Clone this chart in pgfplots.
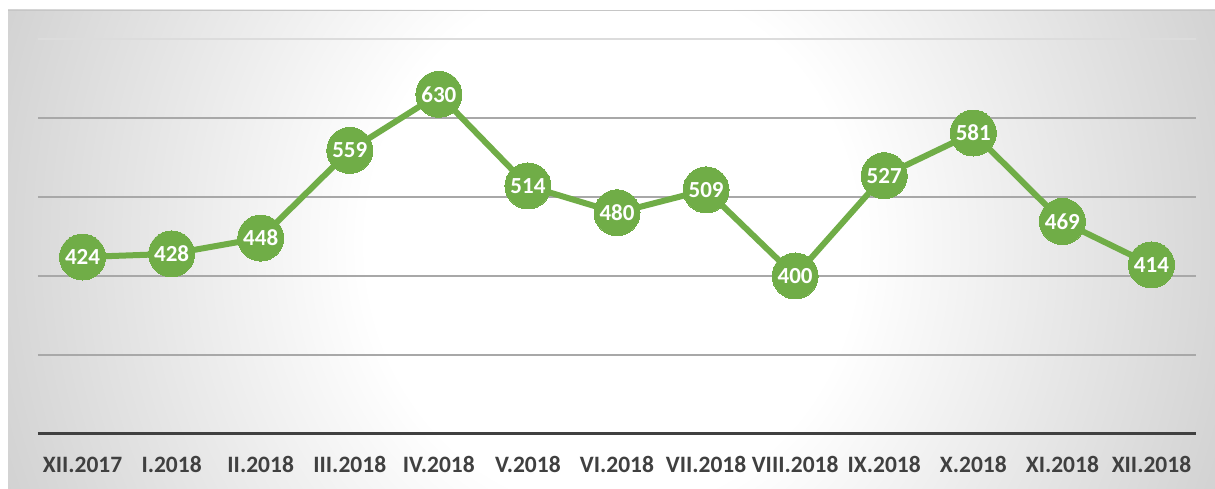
\documentclass[border=0pt]{standalone}
\usepackage{pgfplots}
\pgfplotsset{compat=1.18}
\usepackage{fontspec}
\setmainfont{Carlito}
\definecolor{lgreen}{HTML}{70AD47}
\definecolor{txt}{HTML}{404040}
\definecolor{gridc}{HTML}{A8A8A8}
\definecolor{gridl}{HTML}{DCDCDC}
\definecolor{bgout}{HTML}{C0C0C0}
\pgfdeclareradialshading{bgshade}{\pgfpoint{0bp}{0bp}}{color(0bp)=(white); color(10bp)=(white); color(33bp)=(bgout); color(50bp)=(bgout)}
\begin{document}
\begin{tikzpicture}[x=1pt,y=1pt]
\useasboundingbox (0,0) rectangle (1215,489);
\begin{scope}
\clip (8,0) rectangle (1215,479);
\fill[bgout] (8,0) rectangle (1215,479);
\shade[shading=bgshade] (0,-415) rectangle (1224,905);
\end{scope}
\draw[gray!45, line width=0.8pt] (8,479) -- (1215,479);
\begin{axis}[
  at={(38pt,55pt)}, anchor=south west,
  scale only axis, width=1158pt, height=395pt,
  xmin=-0.5, xmax=12.5, ymin=200, ymax=700,
  clip=false,
  /pgf/number format/assume math mode=true,
  axis x line*=bottom, axis y line*=left,
  x axis line style={-, draw=txt, line width=3pt},
  y axis line style={draw=none},
  xtick={0,...,12},
  xticklabels={XII.2017,I.2018,II.2018,III.2018,IV.2018,V.2018,VI.2018,VII.2018,VIII.2018,IX.2018,X.2018,XI.2018,XII.2018},
  major tick length=0pt,
  xticklabel style={anchor=base, yshift=-39pt, font=\fontsize{23.5}{26}\selectfont\bfseries, text=txt},
  ytick={300,400,500,600},
  yticklabels={},
  ymajorgrids,
  major grid style={draw=gridc, line width=1.3pt},
  extra y ticks={700},
  extra y tick labels={},
  extra y tick style={major grid style={draw=gridl, line width=1.3pt}},
]
\addplot[draw=lgreen, line width=6pt, mark=*, mark size=23pt,
  mark options={fill=lgreen, draw=lgreen, line width=0pt},
  nodes near coords,
  every node near coord/.append style={anchor=center, text=white, font=\fontsize{23}{25}\selectfont\bfseries}]
coordinates {
(0,424) (1,428) (2,448) (3,559) (4,630) (5,514) (6,480) (7,509) (8,400) (9,527) (10,581) (11,469) (12,414)
};
\end{axis}
\end{tikzpicture}
\end{document}
